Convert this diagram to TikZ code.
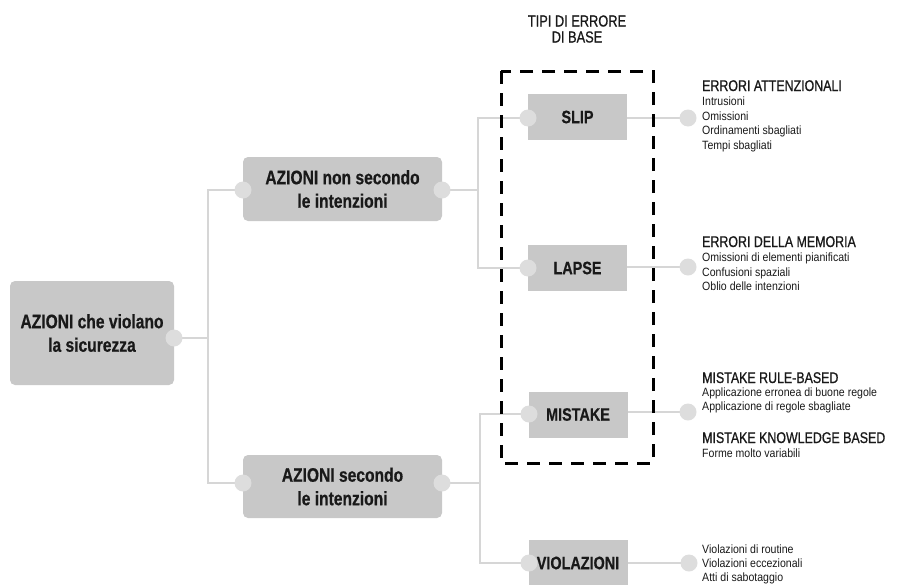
\documentclass[tikz,border=0pt]{standalone}
\usepackage{fontspec}
\setmainfont{Liberation Sans}[FakeStretch=0.88]
\newfontfamily\condfont{Liberation Sans}[FakeStretch=0.8,FakeBold=0.6]
\newfontfamily\headfont{Liberation Sans}[FakeStretch=0.8,FakeBold=0.8]
\usetikzlibrary{calc}
\pgfdeclarelayer{bg}
\pgfsetlayers{bg,main}
\definecolor{boxgray}{RGB}{200,200,200}
\definecolor{dotgray}{RGB}{221,221,221}
\definecolor{linegray}{RGB}{214,214,214}
\definecolor{ink}{RGB}{25,25,25}
\tikzset{
  azione/.style={fill=boxgray,rounded corners=5pt,align=center,inner sep=0pt,text=ink,
    font=\condfont\fontsize{19.5}{23.5}\selectfont\bfseries},
  errbox/.style={fill=boxgray,inner sep=0pt,minimum width=99pt,minimum height=46pt,text=ink,
    font=\condfont\fontsize{18}{20}\selectfont\bfseries},
  dot/.style={circle,fill=dotgray,minimum size=17pt,inner sep=0pt},
  conn/.style={draw=linegray,line width=2.5pt},
  head/.style={anchor=base west,inner sep=0pt,text=ink,font=\headfont\fontsize{15.5}{16}\selectfont},
  item/.style={anchor=base west,inner sep=0pt,text=ink,font=\fontsize{12}{14}\selectfont}
}
\begin{document}
\begin{tikzpicture}[x=1pt,y=-1pt]
\useasboundingbox (0,0) rectangle (902,584);
% riquadri
\node[azione,minimum width=164pt,minimum height=104pt] (root) at (92,333) {AZIONI che violano\\la sicurezza};
\node[azione,minimum width=199pt,minimum height=64pt] (nonint) at (342.5,189) {AZIONI non secondo\\le intenzioni};
\node[azione,minimum width=199pt,minimum height=63pt] (secint) at (342.5,486.5) {AZIONI secondo\\le intenzioni};
\node[errbox] (slip) at (577.5,117) {SLIP};
\node[errbox] (lapse) at (577.5,268) {LAPSE};
\node[errbox] (mistake) at (578,414.5) {MISTAKE};
\node[errbox] (viol) at (578,563) {VIOLAZIONI};
% pallini
\node[dot] (rootR) at (174,338) {};
\node[dot] (nonL) at (243,190) {};
\node[dot] (nonR) at (442,190) {};
\node[dot] (secL) at (243,483) {};
\node[dot] (secR) at (442,483) {};
\node[dot] (slipL) at (528,118) {};
\node[dot] (slipR) at (688,118) {};
\node[dot] (lapseL) at (528,268) {};
\node[dot] (lapseR) at (688,267) {};
\node[dot] (mistL) at (529,414) {};
\node[dot] (mistR) at (688,412) {};
\node[dot] (violL) at (529,563) {};
\node[dot] (violR) at (689,563) {};
\coordinate (j1) at (208,338);
\coordinate (j2) at (478,190);
\coordinate (j3) at (480,483);
% collegamenti
\begin{pgfonlayer}{bg}
\draw[conn] (rootR.center) -- (j1) (nonL.center) -| (j1) |- (secL.center);
\draw[conn] (nonR.center) -- (j2) (slipL.center) -| (j2) |- (lapseL.center);
\draw[conn] (secR.center) -- (j3) (mistL.center) -| (j3) |- (violL.center);
\draw[conn] (slipR.center) -- (slipR -| slip.center);
\draw[conn] (lapseR.center) -- (lapseR -| lapse.center);
\draw[conn] (mistR.center) -- (mistR -| mistake.center);
\draw[conn] (violR.center) -- (violR -| viol.center);
\end{pgfonlayer}
% tipi di errore
\draw[black,line width=3pt,dash pattern=on 13pt off 9pt] (501,71) rectangle (653,463);
\node[align=center,text=ink,font=\headfont\fontsize{16}{16}\selectfont] (tipi) at (577,29) {TIPI DI ERRORE\\DI BASE};
% testi a destra
\node[head] (attH) at (702,91) {ERRORI ATTENZIONALI};
\foreach \t [count=\i] in {Intrusioni,Omissioni,Ordinamenti sbagliati,Tempi sbagliati}
  \node[item] (att\i) at (702,91+14.5*\i) {\t};
\node[head] (memH) at (702,247) {ERRORI DELLA MEMORIA};
\foreach \t [count=\i] in {Omissioni di elementi pianificati,Confusioni spaziali,Oblio delle intenzioni}
  \node[item] (mem\i) at (702,247+14.5*\i) {\t};
\node[head] (ruleH) at (702,383) {MISTAKE RULE-BASED};
\foreach \t [count=\i] in {Applicazione erronea di buone regole,Applicazione di regole sbagliate}
  \node[item] (rule\i) at (702,383+13.5*\i) {\t};
\node[head] (knowH) at (702,443) {MISTAKE KNOWLEDGE BASED};
\node[item] (know1) at (702,457.5) {Forme molto variabili};
\foreach \t [count=\i] in {Violazioni di routine,Violazioni eccezionali,Atti di sabotaggio}
  \node[item] (vio\i) at (702,539+14*\i) {\t};
\end{tikzpicture}
\end{document}
